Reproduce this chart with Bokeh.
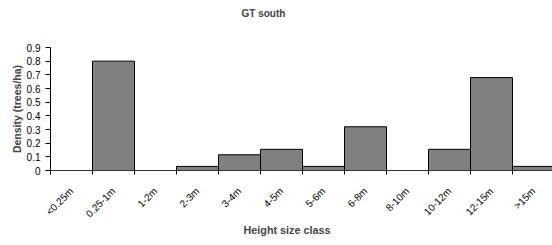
from bokeh.plotting import figure
from bokeh.models import Range1d, FixedTicker, NumeralTickFormatter, Title
from bokeh.embed import file_html
from bokeh.resources import INLINE
import math

categories = ["<0.25m", "0.25-1m", "1-2m", "2-3m", "3-4m", "4-5m", "5-6m",
              "6-8m", "8-10m", "10-12m", "12-15m", ">15m"]
density = [0.0, 0.80, 0.0, 0.03, 0.115, 0.155, 0.03, 0.32, 0.0, 0.155, 0.68, 0.03]
yticks = [0, 0.1, 0.2, 0.3, 0.4, 0.5, 0.6, 0.7, 0.8, 0.9]
title_text = "GT south"
x_title = "Height size class"
y_title = "Density (trees/ha)"

n = len(categories)
centers = [i + 0.5 for i in range(n)]
bounds = [i for i in range(n + 1)]

FONT = "Liberation Sans"

p = figure(width=552, height=245, output_backend="svg", toolbar_location=None,
           x_range=Range1d(0, 11.952), y_range=Range1d(0, 0.9),
           min_border_left=50, min_border_right=0, min_border_top=47,
           min_border_bottom=75)
p.outline_line_color = None
p.xgrid.visible = False
p.ygrid.visible = False

p.vbar(x=centers, top=density, width=1.0, bottom=0,
       fill_color="#808080", line_color="black", line_width=1)

# trailing blank lines lift the title away from the frame
p.title.text = title_text + "\n \n "
p.title.align = "left"
p.title.offset = 191
p.title.vertical_align = "top"
p.title.standoff = 9
p.title.text_font = FONT
p.title.text_font_size = "10px"
p.title.text_font_style = "bold"

xlab = Title(text=x_title, align="left", offset=193,
             vertical_align="top",
             text_font=FONT, text_font_size="10.8px", text_font_style="bold",
             standoff=-6)
p.add_layout(xlab, "below")

xa = p.xaxis[0]
xa.ticker = FixedTicker(ticks=centers, minor_ticks=bounds)
xa.major_label_overrides = {c: lab for c, lab in zip(centers, categories)}
xa.major_tick_line_color = None
xa.minor_tick_out = 4
xa.minor_tick_in = 0
xa.minor_tick_line_color = "black"
xa.axis_line_color = "#333333"
xa.major_label_orientation = math.pi / 4
xa.major_label_standoff = 13
xa.major_label_text_font = FONT
xa.major_label_text_font_size = "10px"
xa.major_label_text_color = "black"

ya = p.yaxis[0]
ya.ticker = FixedTicker(ticks=yticks)
ya.formatter = NumeralTickFormatter(format="0.[0]")
ya.major_tick_out = 5
ya.major_tick_in = 0
ya.minor_tick_line_color = None
ya.axis_line_color = "black"
ya.major_label_text_font = FONT
ya.major_label_text_font_size = "10px"
ya.major_label_text_color = "black"
ya.major_label_standoff = 5
ya.axis_label = y_title
ya.axis_label_text_font = FONT
ya.axis_label_text_font_size = "10.5px"
ya.axis_label_text_font_style = "bold"
ya.axis_label_standoff = 1

open("out.html", "w").write(file_html(p, INLINE))
